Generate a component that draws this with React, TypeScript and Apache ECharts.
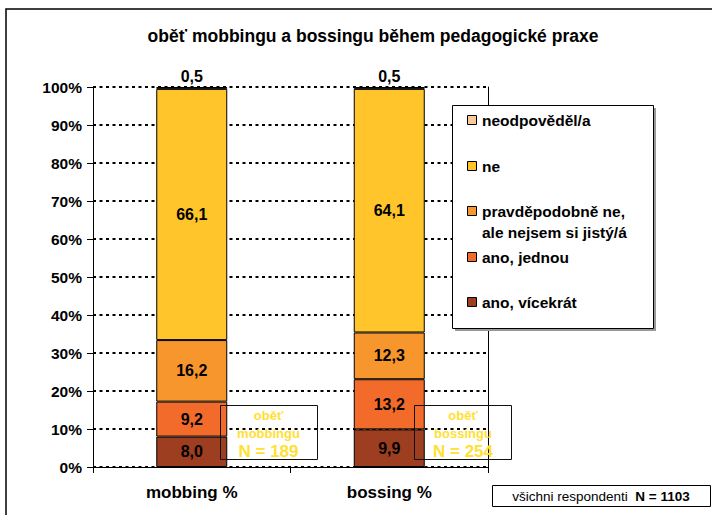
import React, { useEffect, useRef } from "react";
import * as echarts from "echarts";

const categories = ["mobbing %", "bossing %"];
const seriesNames = [
  "ano, vícekrát",
  "ano, jednou",
  "pravděpodobně ne,\nale nejsem si jistý/á",
  "ne",
  "neodpověděl/a",
];
const colors = ["#9C3E1F", "#F26B2A", "#F8962E", "#FFC52A", "#FBC89C"];
const vicekrat = [8.0, 9.9];
const jednou = [9.2, 13.2];
const pravdepodobneNe = [16.2, 12.3];
const ne = [66.1, 64.1];
const neodpovedel = [0.5, 0.5];
const seriesValues = [vicekrat, jednou, pravdepodobneNe, ne, neodpovedel];
const yTicks = [0, 10, 20, 30, 40, 50, 60, 70, 80, 90, 100];
const groupLabels = ["oběť\nmobbingu", "oběť\nbossingu"];
const groupN = [189, 254];
const totalN = 1103;

const FONT = "'Liberation Sans', Arial, sans-serif";
const fmt = (v: number) => v.toFixed(1).replace(".", ",");

export default function App() {
  const ref = useRef<HTMLDivElement>(null);
  useEffect(() => {
    if (!ref.current) return;
    const chart = echarts.init(ref.current, null, { renderer: "svg" });

    const series = seriesNames.map((name, i) => ({
      type: "bar",
      name,
      stack: "all",
      data: seriesValues[i],
      barWidth: 71,
      itemStyle: { color: colors[i], borderColor: "#000", borderWidth: 1 },
      label: {
        show: true,
        position: i === seriesNames.length - 1 ? "top" : "inside",
        formatter: (p: any) => fmt(p.value),
        color: "#000",
        fontWeight: "bold",
        fontSize: 16,
        fontFamily: FONT,
        distance: 3,
      },
    }));

    const legendItems: any[] = [];
    const legendY = [120, 166, 211, 257, 302];
    const revNames = [...seriesNames].reverse();
    const revColors = [...colors].reverse();
    revNames.forEach((n, k) => {
      legendItems.push({
        type: "rect",
        shape: { x: 467.5, y: legendY[k] - 4.5, width: 9, height: 9 },
        style: { fill: revColors[k], stroke: "#000", lineWidth: 1 },
      });
      legendItems.push({
        type: "text",
        x: 482,
        y: legendY[k] - 10,
        style: {
          text: n,
          font: `bold 15.5px ${FONT}`,
          fill: "#000",
          lineHeight: 21,
          textVerticalAlign: "top",
        },
      });
    });

    const boxCenters = [268.5, 463];
    const boxX = [220.5, 414.5];
    const annots: any[] = [];
    groupLabels.forEach((g, i) => {
      annots.push({
        type: "rect",
        shape: { x: boxX[i], y: 405.5, width: 97, height: 54 },
        style: { fill: "none", stroke: "#111", lineWidth: 1 },
        z: 100,
      });
      annots.push({
        type: "text",
        x: boxCenters[i],
        y: 406,
        style: {
          text: g,
          font: `bold 13px ${FONT}`,
          fill: "#FFE033",
          textAlign: "center",
          lineHeight: 18,
        },
        z: 100,
      });
      annots.push({
        type: "text",
        x: boxCenters[i],
        y: 443,
        style: {
          text: `N = ${groupN[i]}`,
          font: `bold 17px ${FONT}`,
          fill: "#FFE033",
          textAlign: "center",
        },
        z: 100,
      });
    });

    chart.setOption({
      animation: false,
      backgroundColor: "#fff",
      title: {
        text: "oběť mobbingu a bossingu během pedagogické praxe",
        left: 368,
        textAlign: "center",
        top: 22,
        textStyle: { fontSize: 17.5, fontWeight: "bold", fontFamily: FONT, color: "#000" },
      },
      legend: { show: false },
      grid: { left: 93, right: 224, top: 87, bottom: 48, containLabel: false },
      xAxis: {
        type: "category",
        data: categories,
        axisLine: { lineStyle: { color: "#000", width: 1 } },
        axisTick: { show: true, length: 6, lineStyle: { color: "#000" } },
        axisLabel: {
          color: "#000",
          fontWeight: "bold",
          fontSize: 17,
          fontFamily: FONT,
          margin: 17,
        },
      },
      yAxis: [
        {
          type: "value",
          min: 0,
          max: 100,
          interval: 10,
          axisLine: { show: true, lineStyle: { color: "#000", width: 1 } },
          axisTick: { show: true, length: 6, lineStyle: { color: "#000" } },
          axisLabel: {
            formatter: (v: number) => (yTicks.includes(v) ? `${v}%` : ""),
            color: "#000",
            fontWeight: "bold",
            fontSize: 15.5,
            fontFamily: FONT,
            margin: 11,
          },
          splitLine: { show: true, lineStyle: { color: "#000", type: [3, 3.5], width: 2 } },
        },
        {
          type: "value",
          min: 0,
          max: 100,
          interval: 10,
          position: "right",
          axisLine: { show: true, lineStyle: { color: "#000", width: 1 } },
          axisTick: { show: false },
          axisLabel: { show: false },
          splitLine: { show: false },
        },
      ],
      series,
      graphic: [
        {
          type: "rect",
          shape: { x: 6, y: 9, width: 720, height: 520 },
          style: { fill: "none", stroke: "#000", lineWidth: 1.5 },
          silent: true,
        },
        {
          type: "rect",
          shape: { x: 455, y: 108, width: 201, height: 223 },
          style: { fill: "#999" },
          z: 90,
        },
        {
          type: "rect",
          shape: { x: 452.5, y: 105.5, width: 201, height: 223 },
          style: { fill: "#fff", stroke: "#000", lineWidth: 1 },
          z: 91,
        },
        ...legendItems.map((e) => ({ ...e, z: 92 })),
        ...annots,
        {
          type: "rect",
          shape: { x: 492.5, y: 485.5, width: 218, height: 21 },
          style: { fill: "#fff", stroke: "#000", lineWidth: 1 },
        },
        {
          type: "text",
          x: 601,
          y: 496,
          style: {
            rich: {
              a: { font: `13.5px ${FONT}`, fill: "#000" },
              b: { font: `bold 13.5px ${FONT}`, fill: "#000" },
            },
            text: `{a|všichni respondenti  }{b|N = ${totalN}}`,
            textAlign: "center",
            textVerticalAlign: "middle",
          },
        },
      ],
    });
    return () => chart.dispose();
  }, []);
  return (
    <div
      ref={ref}
      style={{ position: "absolute", left: 0, top: 0, width: 712, height: 515 }}
    />
  );
}
